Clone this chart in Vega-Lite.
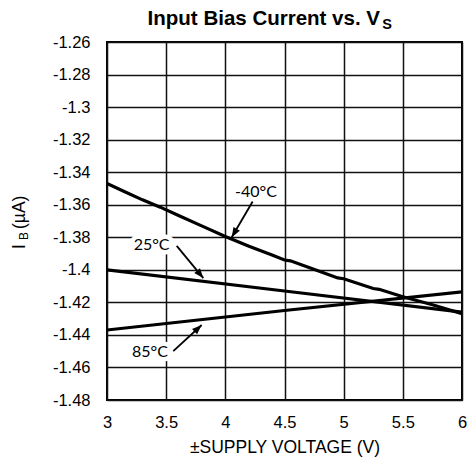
{
  "$schema": "https://vega.github.io/schema/vega-lite/v6.json",
  "width": 355,
  "height": 358,
  "autosize": {"type": "none"},
  "padding": {"left": 107, "top": 42, "right": 8, "bottom": 68},
  "background": "white",
  "config": {
    "view": {"stroke": "black", "strokeWidth": 2},
    "font": "Liberation Sans",
    "axis": {
      "grid": true, "gridColor": "#111", "gridWidth": 1.5, "ticks": false, "domain": false,
      "labelColor": "black", "labelFontSize": 16.5, "labelFont": "Liberation Sans",
      "labelOverlap": false, "labelFlush": false, "labelBound": false,
      "titleColor": "black", "titleFont": "Liberation Sans", "titleFontWeight": "normal", "titleFontSize": 17.5
    }
  },
  "datasets": {
    "curves": [
      {"series": "-40", "V": 3.0, "IB": -1.3470},
      {"series": "-40", "V": 3.15, "IB": -1.3520},
      {"series": "-40", "V": 3.3, "IB": -1.3570},
      {"series": "-40", "V": 3.45, "IB": -1.3615},
      {"series": "-40", "V": 3.6, "IB": -1.3665},
      {"series": "-40", "V": 3.8, "IB": -1.3730},
      {"series": "-40", "V": 4.0, "IB": -1.3795},
      {"series": "-40", "V": 4.2, "IB": -1.3855},
      {"series": "-40", "V": 4.4, "IB": -1.3910},
      {"series": "-40", "V": 4.5, "IB": -1.3940},
      {"series": "-40", "V": 4.55, "IB": -1.3945},
      {"series": "-40", "V": 4.8, "IB": -1.4010},
      {"series": "-40", "V": 4.95, "IB": -1.4050},
      {"series": "-40", "V": 5.0, "IB": -1.4055},
      {"series": "-40", "V": 5.25, "IB": -1.4115},
      {"series": "-40", "V": 5.3, "IB": -1.4120},
      {"series": "-40", "V": 5.5, "IB": -1.4165},
      {"series": "-40", "V": 5.75, "IB": -1.4215},
      {"series": "-40", "V": 6.0, "IB": -1.4270},
      {"series": "25", "V": 3.0, "IB": -1.400},
      {"series": "25", "V": 4.5, "IB": -1.413},
      {"series": "25", "V": 6.0, "IB": -1.426},
      {"series": "85", "V": 3.0, "IB": -1.437},
      {"series": "85", "V": 4.5, "IB": -1.425},
      {"series": "85", "V": 6.0, "IB": -1.4135}
    ],
    "notes": [
      {"label": "-40°C", "tx": 4.259, "ty": -1.352, "ax": 4.231, "ay": -1.358, "hx": 4.054, "hy": -1.380},
      {"label": "25°C", "tx": 3.377, "ty": -1.3847, "ax": 3.589, "ay": -1.3853, "hx": 3.814, "hy": -1.4051},
      {"label": "85°C", "tx": 3.363, "ty": -1.4505, "ax": 3.56, "ay": -1.450, "hx": 3.80, "hy": -1.4339}
    ]
  },
  "layer": [
    {
      "data": {"name": "curves"},
      "mark": {"type": "line", "color": "black", "strokeWidth": 3.2, "clip": true},
      "encoding": {
        "x": {"field": "V", "type": "quantitative",
              "scale": {"domain": [3, 6], "nice": false, "zero": false},
              "axis": {"values": [3, 3.5, 4, 4.5, 5, 5.5, 6], "tickCount": 20, "labelExpr": "toString(datum.value)", "labelPadding": 14, "title": "±SUPPLY VOLTAGE (V)", "titlePadding": 8}},
        "y": {"field": "IB", "type": "quantitative",
              "scale": {"domain": [-1.48, -1.26], "nice": false, "zero": false},
              "axis": {"values": [-1.48, -1.46, -1.44, -1.42, -1.4, -1.38, -1.36, -1.34, -1.32, -1.3, -1.28, -1.26], "tickCount": 20, "labelExpr": "toString(datum.value)", "labelPadding": 17, "title": null}},
        "detail": {"field": "series"}
      }
    },
    {
      "data": {"name": "notes"},
      "mark": {"type": "rule", "color": "black", "strokeWidth": 1.8},
      "encoding": {
        "x": {"field": "ax", "type": "quantitative"},
        "y": {"field": "ay", "type": "quantitative"},
        "x2": {"field": "hx"},
        "y2": {"field": "hy"}
      }
    },
    {
      "data": {"name": "notes"},
      "transform": [{"filter": "datum.label == '-40°C'"}],
      "mark": {"type": "point", "shape": "M0,0L-0.38,1L0.38,1Z", "filled": true, "color": "black", "opacity": 1, "size": 380, "angle": 210.5},
      "encoding": {"x": {"field": "hx", "type": "quantitative"}, "y": {"field": "hy", "type": "quantitative"}}
    },
    {
      "data": {"name": "notes"},
      "transform": [{"filter": "datum.label == '25°C'"}],
      "mark": {"type": "point", "shape": "M0,0L-0.38,1L0.38,1Z", "filled": true, "color": "black", "opacity": 1, "size": 380, "angle": 140.5},
      "encoding": {"x": {"field": "hx", "type": "quantitative"}, "y": {"field": "hy", "type": "quantitative"}}
    },
    {
      "data": {"name": "notes"},
      "transform": [{"filter": "datum.label == '85°C'"}],
      "mark": {"type": "point", "shape": "M0,0L-0.38,1L0.38,1Z", "filled": true, "color": "black", "opacity": 1, "size": 380, "angle": 46.8},
      "encoding": {"x": {"field": "hx", "type": "quantitative"}, "y": {"field": "hy", "type": "quantitative"}}
    },
    {
      "data": {"name": "notes"},
      "mark": {"type": "text", "font": "Lato", "fontSize": 16, "stroke": "white", "strokeWidth": 9, "strokeJoin": "round", "baseline": "middle", "align": "center"},
      "encoding": {"x": {"field": "tx", "type": "quantitative"}, "y": {"field": "ty", "type": "quantitative"}, "text": {"field": "label"}}
    },
    {
      "data": {"name": "notes"},
      "mark": {"type": "text", "font": "Lato", "fontSize": 16, "color": "black", "baseline": "middle", "align": "center"},
      "encoding": {"x": {"field": "tx", "type": "quantitative"}, "y": {"field": "ty", "type": "quantitative"}, "text": {"field": "label"}}
    },
    {
      "data": {"values": [{}]},
      "mark": {"type": "text", "text": "Input Bias Current vs. V", "font": "Liberation Sans", "fontWeight": "bold", "fontSize": 20.5, "align": "right", "baseline": "alphabetic", "color": "black"},
      "encoding": {"x": {"datum": 5.307}, "y": {"datum": -1.2496}}
    },
    {
      "data": {"values": [{}]},
      "mark": {"type": "text", "text": "S", "font": "Liberation Sans", "fontWeight": "bold", "fontSize": 14.5, "align": "left", "baseline": "alphabetic", "color": "black"},
      "encoding": {"x": {"datum": 5.325}, "y": {"datum": -1.2522}}
    },
    {
      "data": {"values": [{}]},
      "mark": {"type": "text", "text": "I", "font": "Liberation Sans", "fontSize": 17.5, "angle": 270, "align": "left", "baseline": "alphabetic", "color": "black"},
      "encoding": {"x": {"datum": 2.307}, "y": {"datum": -1.3872}}
    },
    {
      "data": {"values": [{}]},
      "mark": {"type": "text", "text": "B", "font": "Liberation Sans", "fontSize": 12, "angle": 270, "align": "left", "baseline": "alphabetic", "color": "black"},
      "encoding": {"x": {"datum": 2.332}, "y": {"datum": -1.3817}}
    },
    {
      "data": {"values": [{}]},
      "mark": {"type": "text", "text": "(µA)", "font": "Liberation Sans", "fontSize": 17.5, "angle": 270, "align": "left", "baseline": "alphabetic", "color": "black"},
      "encoding": {"x": {"datum": 2.307}, "y": {"datum": -1.3749}}
    }
  ]
}
